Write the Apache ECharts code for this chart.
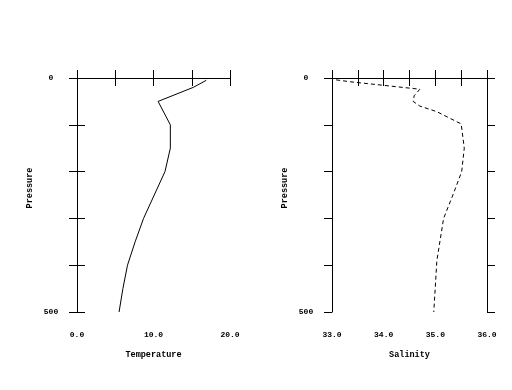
<!DOCTYPE html>
<html><head><meta charset="utf-8">
<script src="https://cdn.jsdelivr.net/npm/echarts@6/dist/echarts.min.js"></script>
<style>html,body{margin:0;padding:0;background:#fff}#c{width:512px;height:390px}</style>
</head><body><div id="c"></div>
<script>
var tempPressure = [5, 20, 50, 100, 150, 200, 250, 300, 350, 400, 450, 500];
var temperature  = [16.9, 15.2, 10.6, 12.2, 12.2, 11.5, 10.1, 8.7, 7.6, 6.6, 6.0, 5.5];
var salPressure = [4, 8, 24, 38, 50, 60, 72, 86, 98, 150, 200, 250, 300, 390, 500];
var salinity    = [33.08, 33.35, 34.70, 34.59, 34.57, 34.70, 35.03, 35.28, 35.50, 35.56, 35.51, 35.34, 35.16, 35.03, 34.97];
var pressureLabels = [0, 500];

var FONT = 'Liberation Mono';
var tickLbl = {fontFamily: FONT, fontWeight: 'bold', fontSize: 8, color: '#000'};
var nameLbl = {fontFamily: FONT, fontWeight: 'bold', fontSize: 8.5, color: '#000'};
var line = {lineStyle: {color: '#000', width: 1}};
var tick = {show: true, inside: false, length: 8, lineStyle: {color: '#000', width: 1}};

function pairs(xs, ys) { return xs.map(function (x, i) { return [x, ys[i]]; }); }

function xAxes(gi, min, max, step, lblStep, name) {
  return [{
    gridIndex: gi, type: 'value', position: 'bottom', min: min, max: max, interval: step,
    axisLine: line, axisTick: tick, splitLine: {show: false},
    axisLabel: Object.assign({margin: 19, formatter: function (v) {
      var r = Math.abs(v / lblStep - Math.round(v / lblStep)) < 1e-6; return r ? v.toFixed(1) : ''; }}, tickLbl),
    name: name, nameLocation: 'middle', nameGap: 38, nameTextStyle: nameLbl
  }, {
    gridIndex: gi, type: 'value', position: 'top', min: min, max: max, interval: step,
    axisLine: line, axisTick: tick, splitLine: {show: false}, axisLabel: {show: false}
  }];
}
function yAxes(gi) {
  return [{
    gridIndex: gi, type: 'value', position: 'left', inverse: true, min: 0, max: 500, interval: 100,
    axisLine: line, axisTick: tick, splitLine: {show: false},
    axisLabel: Object.assign({margin: 26, align: 'center', formatter: function (v) {
      return pressureLabels.indexOf(v) >= 0 ? String(v) : ''; }}, tickLbl),
    name: 'Pressure', nameLocation: 'middle', nameGap: 43, nameRotate: 90,
    nameTextStyle: Object.assign({padding: [0, 0, 0, 14]}, nameLbl)
  }, {
    gridIndex: gi, type: 'value', position: 'right', inverse: true, min: 0, max: 500, interval: 100,
    axisLine: line, axisTick: tick, splitLine: {show: false}, axisLabel: {show: false}
  }];
}

var chart = echarts.init(document.getElementById('c'), null, {renderer: 'canvas'});
chart.setOption({
  animation: false,
  backgroundColor: '#fff',
  grid: [
    {left: 77, top: 78, width: 153, height: 234},
    {left: 332, top: 78, width: 155, height: 234}
  ],
  xAxis: xAxes(0, 0, 20, 5, 10, 'Temperature').concat(xAxes(1, 33, 36, 0.5, 1, 'Salinity')),
  yAxis: yAxes(0).concat(yAxes(1)),
  series: [
    {type: 'line', xAxisIndex: 0, yAxisIndex: 0, data: pairs(temperature, tempPressure),
     showSymbol: false, lineStyle: {color: '#000', width: 1}},
    {type: 'line', xAxisIndex: 2, yAxisIndex: 2, data: pairs(salinity, salPressure),
     showSymbol: false, lineStyle: {color: '#000', width: 1, type: [4, 3]}}
  ]
});
</script></body></html>
